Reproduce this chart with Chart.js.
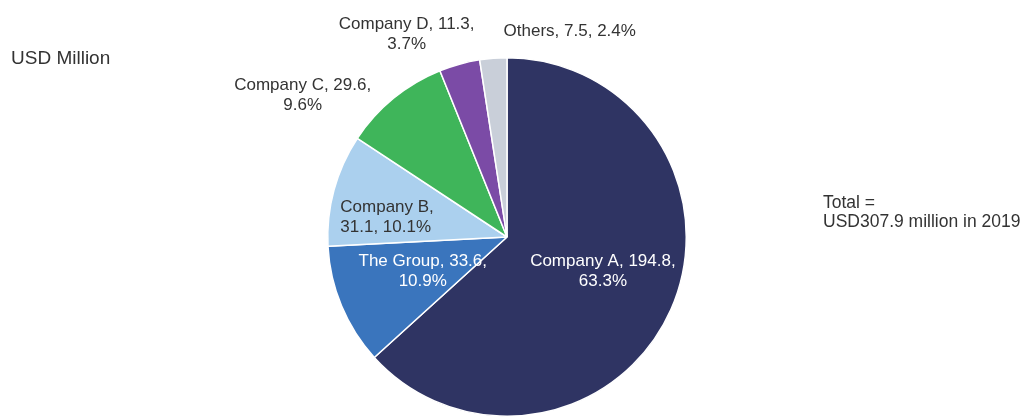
<!DOCTYPE html>
<html>
<head>
<meta charset="utf-8">
<script src="https://cdn.jsdelivr.net/npm/chart.js@4"></script>
<style>
  html, body { margin: 0; padding: 0; background: #ffffff; }
  #wrap { position: relative; width: 1023px; height: 417px; }
  canvas { display: block; }
</style>
</head>
<body>
<div id="wrap"><canvas id="c" width="1023" height="417"></canvas></div>
<script>
// ---- data ----
const categories = ["Company A", "The Group", "Company B", "Company C", "Company D", "Others"];
const values = [194.8, 33.6, 31.1, 29.6, 11.3, 7.5];
const colors = ["#2f3463", "#3a75bd", "#abd0ee", "#3fb55a", "#7b4ba6", "#c9cfd9"];
const labelParts1 = [2, 2, 1, 2, 2, 3]; // how many label parts go on the first line
const unitLabel = "USD Million";
const totalLines = ["Total =", "USD307.9 million in 2019"];

const total = values.reduce((a, b) => a + b, 0);

// label anchor offsets relative to pie centre, in units of radius (layout only)
const labelLayout = [
  { dx: 0.535, dy: 0.19, color: "#ffffff", align: "center" },
  { dx: -0.47, dy: 0.19, color: "#ffffff", align: "center" },
  { dx: -0.93, dy: -0.11, color: "#333333", align: "left" },
  { dx: -1.14, dy: -0.79, color: "#333333", align: "center" },
  { dx: -0.56, dy: -1.13, color: "#333333", align: "center" },
  { dx: 0.35, dy: -1.145, color: "#333333", align: "center" }
];

const FONT = "17px 'Liberation Sans', Arial, sans-serif";

const labelPlugin = {
  id: 'sliceLabels',
  afterDatasetsDraw(chart) {
    const ctx = chart.ctx;
    const meta = chart.getDatasetMeta(0);
    ctx.save();
    ctx.font = FONT;
    ctx.textBaseline = 'middle';
    meta.data.forEach((arc, i) => {
      const r = arc.outerRadius;
      const L = labelLayout[i];
      const pct = (values[i] / total * 100).toFixed(1) + "%";
      const parts = [categories[i], String(values[i]), pct];
      const n = labelParts1[i];
      const lines = [];
      const first = parts.slice(0, n).join(", ") + (n < 3 ? "," : "");
      lines.push(first);
      if (n < 3) lines.push(parts.slice(n).join(", "));
      const x = arc.x + L.dx * r;
      const y = arc.y + L.dy * r;
      const lh = 20;
      ctx.fillStyle = L.color;
      ctx.textAlign = L.align;
      const y0 = y - (lines.length - 1) * lh / 2;
      lines.forEach((t, k) => ctx.fillText(t, x, y0 + k * lh));
    });
    // unit label
    ctx.fillStyle = "#333333";
    ctx.textAlign = 'left';
    ctx.font = "19px 'Liberation Sans', Arial, sans-serif";
    ctx.fillText(unitLabel, 11, 59);
    ctx.font = "17.5px 'Liberation Sans', Arial, sans-serif";
    totalLines.forEach((t, k) => ctx.fillText(t, 823, 203 + k * 19));
    ctx.restore();
  }
};

new Chart(document.getElementById('c'), {
  type: 'pie',
  data: {
    labels: categories,
    datasets: [{
      data: values,
      backgroundColor: colors,
      borderColor: "#ffffff",
      borderWidth: 1.5
    }]
  },
  options: {
    responsive: false,
    animation: false,
    layout: { padding: { top: 57, bottom: 0, left: 0, right: 9 } },
    plugins: {
      legend: { display: false },
      tooltip: { enabled: false }
    }
  },
  plugins: [labelPlugin]
});
</script>
</body>
</html>
